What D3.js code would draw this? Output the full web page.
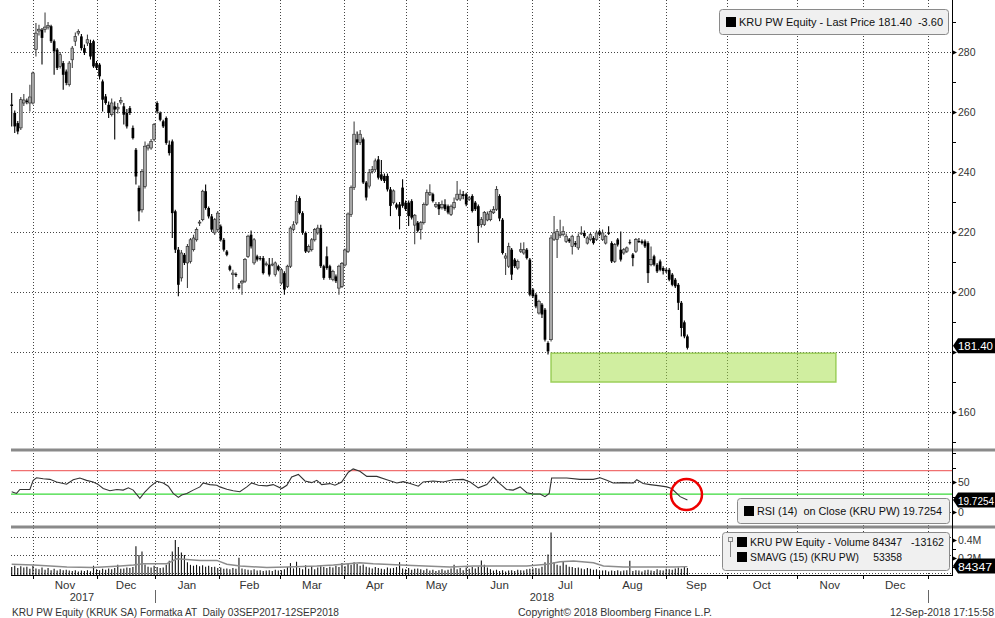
<!DOCTYPE html>
<html>
<head>
<meta charset="utf-8">
<script src="https://cdn.jsdelivr.net/npm/d3@7"></script>
<style>
body { margin: 0; background: #fff; }
text { font-family: "Liberation Sans", Arial, sans-serif; }
</style>
</head>
<body>
<div id="chart"></div>
<script>

// daily candles (PLN)
var open = [262.5,259.7,256.3,254.7,263.0,263.8,263.0,263.0,280.8,287.0,287.4,287.5,288.3,288.6,283.6,280.8,275.2,276.3,273.5,269.1,
277.4,283.6,286.3,285.2,281.3,283.0,283.0,283.6,276.3,275.8,270.2,265.2,262.4,259.1,261.9,261.0,263.3,261.9,259.7,261.3,
254.7,247.4,234.7,227.4,235.2,248.0,248.0,250.8,263.0,259.7,256.9,258.0,249.1,250.2,226.9,214.1,204.7,212.4,209.7,210.2,
214.1,217.4,223.0,224.1,233.6,228.0,225.2,219.7,220.8,221.9,217.4,213.5,208.6,205.8,206.0,202.4,203.0,203.6,211.9,219.1,
209.7,211.9,211.3,211.3,209.1,209.1,209.0,205.8,208.6,203.0,206.3,201.9,208.6,220.8,223.0,231.3,226.3,219.7,213.5,214.1,
217.4,219.7,221.3,208.6,211.9,208.6,204.1,205.2,201.3,201.9,209.0,213.5,225.9,234.8,250.9,249.8,250.9,236.5,235.3,240.2,
240.8,244.2,239.2,238.7,238.7,234.2,229.8,229.2,229.2,234.8,229.8,229.8,230.3,222.3,223.1,220.9,223.1,229.2,232.6,232.6,
228.6,229.2,228.1,229.2,228.6,225.9,228.1,230.9,231.0,232.6,232.6,230.9,232.0,229.8,228.6,222.5,222.5,224.0,224.1,226.4,
227.6,232.0,224.1,211.3,208.6,214.1,210.8,208.0,213.6,213.0,214.1,210.8,200.8,199.1,193.0,195.8,194.1,183.0,184.1,217.6,
217.5,218.8,219.1,216.9,217.5,215.2,216.3,214.7,219.5,219.7,216.3,217.5,218.0,217.5,220.2,217.5,216.3,219.9,216.3,210.2,
217.5,214.1,213.0,213.6,216.6,212.5,213.6,217.0,216.9,216.9,216.3,209.1,211.9,209.1,210.2,208.0,207.4,207.4,205.8,204.1,
202.4,196.4,189.9,185.2];
var high = [266.3,260.5,257.0,265.0,266.0,264.5,269.1,273.5,289.7,289.1,288.0,293.2,290.0,289.1,284.2,281.3,280.0,277.0,274.2,277.0,
282.0,286.5,287.6,286.0,282.5,285.8,284.1,284.1,277.0,276.3,270.8,266.0,263.5,264.5,263.5,263.0,265.0,263.0,261.0,262.0,
255.5,248.0,235.5,241.0,250.2,249.5,251.0,256.3,263.6,260.2,257.4,258.5,250.5,250.8,227.4,215.0,214.0,213.0,216.0,218.0,
219.1,221.5,224.0,234.1,235.8,228.5,226.0,224.7,227.0,222.5,218.0,214.0,209.1,207.4,206.5,203.0,204.1,211.3,219.1,220.5,
218.0,212.4,212.0,212.0,210.2,211.3,211.3,210.2,209.1,208.0,206.9,209.1,221.9,223.6,232.4,231.9,226.9,220.2,215.8,218.0,
221.3,222.4,222.4,209.1,215.2,209.1,207.4,205.8,209.1,210.0,214.5,226.5,235.5,256.8,253.5,254.0,251.5,237.0,241.0,242.0,
244.5,245.3,244.0,239.5,239.5,235.0,234.2,229.8,230.0,237.6,230.5,230.5,230.9,226.0,223.7,223.7,229.8,234.2,235.9,233.1,
230.0,230.0,230.5,230.9,229.2,229.2,231.5,237.0,234.2,233.7,233.1,232.0,232.6,230.3,229.2,225.0,227.0,226.8,227.5,228.6,
235.3,232.6,224.7,213.0,216.4,214.7,211.3,210.8,216.4,216.6,214.7,211.3,201.3,199.7,197.4,196.3,194.7,183.6,219.0,225.3,
221.0,224.1,221.9,219.5,218.0,219.1,217.0,219.5,221.9,220.5,218.6,219.7,218.6,220.5,220.8,220.8,219.1,221.9,216.9,216.3,
218.0,220.2,214.7,215.2,217.5,213.0,218.0,218.0,217.5,217.5,216.9,215.2,212.4,209.7,210.8,208.6,208.0,208.0,206.3,204.7,
203.0,197.0,190.5,185.8];
var low = [255.2,253.0,252.6,254.0,262.0,262.6,260.2,262.5,278.5,285.5,275.8,286.5,287.5,283.0,272.4,274.0,274.5,267.4,268.9,268.5,
274.7,282.0,285.5,280.5,279.0,282.0,277.5,274.7,274.0,270.8,260.2,262.4,258.0,258.5,250.8,259.5,262.5,255.8,254.5,259.0,
250.8,235.8,223.6,226.5,234.5,247.2,247.4,250.2,259.5,256.9,254.7,249.1,245.5,218.0,213.0,198.6,203.5,209.0,201.3,209.5,
213.5,216.8,222.0,223.6,227.4,224.5,220.0,219.0,220.0,216.8,213.5,211.9,206.9,200.8,205.0,200.8,199.1,203.0,211.3,214.5,
209.1,210.2,210.5,205.8,208.6,205.2,208.6,205.2,206.9,202.4,199.1,201.3,208.0,220.2,222.4,225.8,219.1,213.0,213.0,213.5,
216.8,219.1,208.0,204.1,207.4,204.1,203.6,203.0,199.1,201.3,208.5,213.0,225.0,234.0,249.0,249.0,236.0,230.5,234.5,239.5,
240.0,237.5,237.0,236.3,233.5,225.3,229.2,227.5,220.9,228.1,227.0,222.0,224.2,215.9,219.8,217.5,222.5,228.7,232.0,229.8,
228.0,225.7,227.5,227.0,225.9,225.3,227.5,230.3,230.3,230.9,228.6,230.3,226.5,227.0,216.4,221.5,222.0,223.6,223.6,226.0,
227.0,223.6,212.5,205.7,208.0,204.0,208.0,207.4,213.0,212.4,210.8,198.6,198.0,194.6,192.5,191.3,183.5,179.2,183.5,217.0,
211.3,218.0,218.6,216.3,216.3,212.5,215.0,214.0,219.0,218.0,215.8,216.9,215.8,217.0,218.6,217.0,215.8,219.0,209.7,209.7,
215.2,210.2,212.4,213.0,215.8,208.6,213.0,216.3,215.8,214.7,203.0,208.6,208.6,206.3,206.9,205.8,206.3,203.6,201.9,201.3,
194.0,185.2,184.6,180.8];
var close = [262.0,255.2,253.5,264.1,264.0,263.3,265.0,273.0,286.3,287.6,284.7,288.3,288.8,283.6,280.2,274.7,279.1,272.4,269.7,276.3,
281.3,285.2,286.9,281.3,279.7,284.1,278.5,275.2,274.7,271.9,264.1,263.0,259.7,263.0,260.8,261.6,263.8,259.1,255.2,259.7,
251.3,238.5,226.9,240.2,248.6,248.8,250.2,255.8,260.2,257.4,255.2,249.7,246.3,226.3,214.1,202.4,213.0,209.7,215.2,217.4,
218.0,220.8,223.3,233.6,228.0,225.2,220.8,224.1,226.3,217.4,214.1,212.4,207.4,206.3,205.6,201.3,203.6,210.8,218.6,215.2,
217.4,210.8,211.0,206.3,209.4,205.8,209.3,209.7,207.4,207.4,200.8,208.6,221.3,222.4,230.2,226.3,219.7,213.5,215.2,217.4,
220.8,221.3,208.6,204.7,208.0,204.7,206.9,203.6,208.6,209.5,214.0,226.0,234.8,252.6,249.8,252.6,236.5,231.5,239.8,240.8,
243.7,238.1,237.5,237.0,234.2,228.7,233.7,228.1,225.3,228.7,227.6,225.3,224.8,225.6,220.4,223.1,229.2,233.1,233.1,230.3,
229.2,227.6,229.2,227.6,226.5,228.6,229.8,232.6,232.6,232.0,229.2,231.4,227.0,227.6,222.0,224.1,226.5,226.0,226.9,227.5,
234.2,224.5,213.0,212.0,215.2,205.8,208.6,210.2,214.1,214.1,211.3,199.1,198.6,195.2,196.9,192.5,184.1,180.2,218.0,219.7,
220.2,219.3,220.2,218.6,216.9,218.6,215.8,218.6,219.7,218.6,218.0,219.1,216.3,219.7,219.1,219.7,218.6,219.4,210.2,215.8,
215.8,210.8,214.1,214.7,216.3,211.3,217.5,216.9,216.3,215.2,206.3,210.8,209.1,206.9,207.4,207.0,206.9,204.1,202.4,201.9,
196.4,188.0,185.2,181.4];

// volume, thousands of shares
var volume = [95,110,85,105,90,100,75,110,80,70,90,65,85,60,75,55,70,60,65,55,
50,60,45,55,50,60,48,110,70,60,75,65,80,70,85,120,75,80,90,85,
95,330,230,270,125,100,90,110,95,85,90,120,165,270,400,320,260,230,150,120,
110,120,105,115,100,110,95,100,85,90,75,80,70,85,75,200,80,70,65,60,
70,55,60,50,55,60,50,65,55,60,70,95,140,80,155,85,70,115,75,105,
70,90,105,95,85,100,90,110,95,140,105,130,120,150,130,110,125,100,90,80,
95,85,75,70,90,80,85,95,150,80,70,85,65,75,80,70,60,75,55,65,
50,60,70,55,65,80,120,70,85,60,90,75,95,80,100,170,120,90,70,55,
65,50,60,45,55,60,50,65,60,55,70,75,80,85,80,100,150,236,484,150,
120,110,160,120,100,95,85,90,80,70,85,75,65,70,50,55,60,45,55,50,
60,48,55,60,165,50,60,55,45,60,65,55,50,70,60,55,75,70,65,80,
90,75,95,84];

// SMAVG (15) of volume, thousands
var smaDay = [0,7.2,12.7,18.2,27,35.8,40.2,43.5,51.2,54.5,57.8,62.2,67.7,71,75.4,84.2,90.8,100.7,106.2,111.1,
114.9,119.3,130.3,144.6,152.4,170,176.6,181,185.4,192,195.3,201.9,218.4,223];
var smaValue = [126,119,108,97,89,108,119,133,133,188,181,170,170,126,108,89,97,108,119,133,
144,133,115,97,108,108,126,155,163,144,108,97,97,100];

// RSI (14)
var rsiDay = [0,1.6,2.7,6,7.1,8.2,10.4,12.6,14.8,18.1,20.3,22.5,24.7,26.9,28.6,30.2,32.4,34.7,36.8,38.5,
40.1,42.3,44,45.6,47.9,50,51.7,53.3,55,56.1,57.8,59.9,62.1,63.2,65.4,67.7,68.7,71,73.1,75.3,
77.6,79.2,81.4,84.2,86.3,89.1,90.8,92.4,94.6,96.8,99,100.7,102.3,105,106.7,108.9,111.1,112.7,114.9,117.2,
120.5,123.8,127.1,129.2,131.5,134.2,135.8,139.1,142.4,145.7,149,151.3,154,156.8,158.9,161.1,163.3,165.5,167.8,170,
172.1,174.4,176,177.4,178.2,183.2,187.5,191.9,194.2,196.4,198.5,201.8,205.2,206.3,208.4,210.7,214,216.2,217.8,220.6,223];
var rsiValue = [33.9,31.1,37.8,37.8,53.3,57.8,56.1,55,50.6,46.7,54.4,57.2,53.3,50.6,46.1,39.4,35.6,37.8,36.7,40.6,
36.7,22.8,33.9,42.2,51.7,48.9,43.3,31.1,24.4,28.3,31.1,36.7,42.2,48.9,46.1,45,42.2,38.3,35.6,33.9,
42.2,48.9,45,43.9,46.1,39.4,45,58.9,63.3,52.2,49.4,53.3,46.1,47.8,45,50.6,67.2,72.8,68.9,60,
60,54.4,48.9,51.1,47.8,43.3,50.6,52.2,50.6,54.4,55,50.6,40.6,46.1,58.9,47.8,37.8,36.7,42.2,32.2,
30,30,25.6,31.1,57.2,57.2,55,55,57.8,53.3,48.9,49.4,48.9,54.4,47.8,46.1,43.9,42.2,39.4,25.6,19.7];

// calendar: month boundaries in trading-day units
var monthLines = [7.0,28.2,47.3,68.4,88.5,109.7,130.1,150.3,171.7,193.8,215.9,236.0,259.1,280.9,302.3];
var monthNames = ["Nov","Dec","Jan","Feb","Mar","Apr","May","Jun","Jul","Aug","Sep","Oct","Nov","Dec"];
var yearNames = ["2017","2018"];
var yearDay = [23.2,175];
var yearSplit = [47.3,302.3];

// axes (the 180 label sits under the last-price tag)
var priceTicks = [160,180,200,220,240,260,280];
var priceLabels = ["160","","200","220","240","260","280"];
var priceMinor = [150,170,190,210,230,250,270,290];
var rsiTicks = [0,50];
var rsiMinor = [25,75,100];
var rsiBands = [70,30];
var volTicks = [200,400];
var volMinor = [100,300];

// support zone and highlighted RSI
var zoneDays = [178,272];
var zonePrice = [170,179.6];
var markDay = 222.7, markRsi = 29.3;

var lastPrice = "181.40", lastRsi = "19.7254", lastVol = "84347";

var svg = d3.select("#chart")
    .append("svg")
    .attr("width", 995)
    .attr("height", 618);

var left = 11, axisX = 952;

// X scale: one step per trading day
var x = d3.scaleLinear()
    .domain([0, 223])
    .range([11.7, 687.4]);

// Y scales for the three panels
var y = d3.scaleLinear().domain([160, 280]).range([412, 52]);
var yRsi = d3.scaleLinear().domain([0, 50]).range([511.7, 482.3]);
var yVol = d3.scaleLinear().domain([0, 400]).range([575.5, 540]);

var grid = svg.append("g")
    .attr("stroke", "#444")
    .attr("stroke-dasharray", "1,2")
    .attr("stroke-width", 1);

// vertical month lines
grid.selectAll(".vgrid")
    .data(monthLines)
    .enter().append("line")
    .attr("x1", function(d) { return Math.round(x(d)) + 0.5; })
    .attr("x2", function(d) { return Math.round(x(d)) + 0.5; })
    .attr("y1", 0)
    .attr("y2", 575);

// horizontal grid in each panel
grid.selectAll(".pgrid")
    .data(priceTicks)
    .enter().append("line")
    .attr("x1", left).attr("x2", axisX)
    .attr("y1", function(d) { return Math.round(y(d)) + 0.5; })
    .attr("y2", function(d) { return Math.round(y(d)) + 0.5; });

grid.selectAll(".rgrid")
    .data(rsiTicks)
    .enter().append("line")
    .attr("x1", left).attr("x2", axisX)
    .attr("y1", function(d) { return Math.round(yRsi(d)) + 0.5; })
    .attr("y2", function(d) { return Math.round(yRsi(d)) + 0.5; });

grid.selectAll(".vgrid2")
    .data(volTicks.concat([0]))
    .enter().append("line")
    .attr("x1", left).attr("x2", axisX)
    .attr("y1", function(d) { return Math.round(yVol(d)) - 2.5; })
    .attr("y2", function(d) { return Math.round(yVol(d)) - 2.5; });

// support zone
svg.append("rect")
    .attr("x", x(zoneDays[0]))
    .attr("y", y(zonePrice[1]))
    .attr("width", x(zoneDays[1]) - x(zoneDays[0]))
    .attr("height", y(zonePrice[0]) - y(zonePrice[1]))
    .attr("fill", "#a1dd41")
    .attr("fill-opacity", 0.5)
    .attr("stroke", "#9ccf5a")
    .attr("stroke-width", 1.5);

// candles
var days = d3.range(close.length);

svg.append("g").selectAll("line")
    .data(days)
    .enter().append("line")
    .attr("x1", function(d) { return x(d); })
    .attr("x2", function(d) { return x(d); })
    .attr("y1", function(d) { return y(high[d]); })
    .attr("y2", function(d) { return y(low[d]); })
    .attr("stroke", function(d) { return close[d] >= open[d] ? "#444" : "#000"; })
    .attr("stroke-width", 1.1);

svg.append("g").selectAll("rect")
    .data(days)
    .enter().append("rect")
    .attr("x", function(d) { return x(d) - 1.35; })
    .attr("width", 2.7)
    .attr("y", function(d) { return y(Math.max(open[d], close[d])); })
    .attr("height", function(d) { return Math.max(1, Math.abs(y(open[d]) - y(close[d]))); })
    .attr("fill", function(d) { return close[d] >= open[d] ? "#a8a8a8" : "#000"; })
    .attr("stroke", function(d) { return close[d] >= open[d] ? "#222" : "none"; })
    .attr("stroke-width", 0.6);

// RSI bands
svg.selectAll(".band")
    .data(rsiBands)
    .enter().append("line")
    .attr("x1", left).attr("x2", axisX)
    .attr("y1", function(d) { return yRsi(d); })
    .attr("y2", function(d) { return yRsi(d); })
    .attr("stroke", function(d, i) { return i == 0 ? "#f07070" : "#3ada3a"; })
    .attr("stroke-width", 1.2);

// RSI line
svg.append("path")
    .datum(d3.range(rsiDay.length))
    .attr("fill", "none")
    .attr("stroke", "#333")
    .attr("stroke-width", 1.1)
    .attr("d", d3.line()
        .x(function(i) { return x(rsiDay[i]); })
        .y(function(i) { return yRsi(rsiValue[i]); }));

svg.append("circle")
    .attr("cx", x(markDay))
    .attr("cy", yRsi(markRsi))
    .attr("r", 15.5)
    .attr("fill", "none")
    .attr("stroke", "#e00")
    .attr("stroke-width", 2.5);

// volume bars
svg.append("g").selectAll("line")
    .data(days)
    .enter().append("line")
    .attr("x1", function(d) { return x(d); })
    .attr("x2", function(d) { return x(d); })
    .attr("y1", yVol(0))
    .attr("y2", function(d) { return yVol(volume[d]); })
    .attr("stroke", "#111")
    .attr("stroke-width", 1.1);

svg.append("path")
    .datum(d3.range(smaDay.length))
    .attr("fill", "none")
    .attr("stroke", "#8c8c8c")
    .attr("stroke-width", 1.5)
    .attr("d", d3.line()
        .x(function(i) { return x(smaDay[i]); })
        .y(function(i) { return yVol(smaValue[i]); }));

// panel separators
svg.selectAll(".sep")
    .data([450, 527])
    .enter().append("line")
    .attr("x1", left).attr("x2", 995)
    .attr("y1", function(d) { return d; })
    .attr("y2", function(d) { return d; })
    .attr("stroke", "#8a8a8a")
    .attr("stroke-width", 3);

svg.append("line")
    .attr("x1", left).attr("x2", axisX)
    .attr("y1", 575.5).attr("y2", 575.5)
    .attr("stroke", "#000");

svg.append("line")
    .attr("x1", axisX + 0.5).attr("x2", axisX + 0.5)
    .attr("y1", 0).attr("y2", 576)
    .attr("stroke", "#000");

// right axis ticks with little arrows
function rightAxis(scale, major, minor, fmt) {
    var g = svg.append("g");
    g.selectAll(".minor")
        .data(minor)
        .enter().append("line")
        .attr("x1", axisX).attr("x2", axisX + 4)
        .attr("y1", function(d) { return Math.round(scale(d)) + 0.5; })
        .attr("y2", function(d) { return Math.round(scale(d)) + 0.5; })
        .attr("stroke", "#000");
    g.selectAll(".arrow")
        .data(major)
        .enter().append("path")
        .attr("d", function(d) {
            var yy = Math.round(scale(d)) + 0.5;
            return "M" + axisX + "," + (yy - 2.5) + "L" + (axisX + 5) + "," + yy + "L" + axisX + "," + (yy + 2.5) + "Z";
        })
        .attr("fill", "#000");
    g.selectAll("text")
        .data(major)
        .enter().append("text")
        .attr("x", axisX + 6)
        .attr("y", function(d) { return scale(d) + 4; })
        .style("font-size", "10.5px")
        .attr("fill", "#333")
        .text(fmt);
}

rightAxis(y, priceTicks, priceMinor, function(d, i) { return priceLabels[i]; });
rightAxis(yRsi, rsiTicks, rsiMinor, function(d) { return d; });
rightAxis(yVol, volTicks, volMinor, function(d) { return (d / 1000) + "M"; });

// last value tags
function tag(yy, label, w) {
    svg.append("path")
        .attr("d", "M" + (axisX + 1) + "," + yy + "L" + (axisX + 6) + "," + (yy - 7.5) +
            "L995," + (yy - 7.5) + "L995," + (yy + 7.5) + "L" + (axisX + 6) + "," + (yy + 7.5) + "Z")
        .attr("fill", "#000");
    svg.append("text")
        .attr("x", axisX + 6)
        .attr("y", yy + 4.5)
        .attr("fill", "#fff")
        .style("font-size", "11.5px")
        .attr("textLength", w)
        .attr("lengthAdjust", "spacingAndGlyphs")
        .text(label);
}
tag(y(+lastPrice) - 2, lastPrice, 35);
tag(yRsi(+lastRsi), lastRsi, 36);
tag(yVol(+lastVol / 1000) - 2, lastVol, 34);

// legend boxes
function box(bx, by, bw, bh) {
    svg.append("rect")
        .attr("x", bx + 0.5).attr("y", by + 0.5)
        .attr("width", bw).attr("height", bh)
        .attr("rx", 3)
        .attr("fill", "#f0f0f0")
        .attr("stroke", "#8a8a8a");
}
function entry(ex, ey, label, w) {
    svg.append("rect")
        .attr("x", ex).attr("y", ey - 9)
        .attr("width", 10).attr("height", 10)
        .attr("fill", "#000");
    svg.append("text")
        .attr("x", ex + 13).attr("y", ey)
        .style("font-size", "11px")
        .style("white-space", "pre")
        .attr("fill", "#111")
        .attr("textLength", w)
        .attr("lengthAdjust", "spacingAndGlyphs")
        .text(label);
}

box(719, 9, 229, 25);
entry(726, 26, "KRU PW Equity - Last Price " + lastPrice + "  -3.60", 204);

box(737, 498, 212, 25);
entry(744, 515, "RSI (14)  on Close (KRU PW) " + lastRsi, 185);

box(722, 532, 227, 38);
entry(737, 546, "KRU PW Equity - Volume " + lastVol + "   -13162", 194);
entry(737, 561, "SMAVG (15) (KRU PW)     53358", 152);
svg.append("rect")
    .attr("x", 728.5).attr("y", 537.5).attr("width", 4).attr("height", 4)
    .attr("fill", "none").attr("stroke", "#888");
svg.append("line")
    .attr("x1", 730.5).attr("x2", 730.5).attr("y1", 542).attr("y2", 557)
    .attr("stroke", "#888");

// bottom axis: month names and years
svg.selectAll(".mtick")
    .data(monthLines)
    .enter().append("line")
    .attr("x1", function(d) { return Math.round(x(d)) + 0.5; })
    .attr("x2", function(d) { return Math.round(x(d)) + 0.5; })
    .attr("y1", 575).attr("y2", 579)
    .attr("stroke", "#000");

svg.selectAll(".mlabel")
    .data(monthNames)
    .enter().append("text")
    .attr("x", function(d, i) { return (x(monthLines[i]) + x(monthLines[i + 1])) / 2; })
    .attr("y", 589)
    .attr("text-anchor", "middle")
    .style("font-size", "11.5px")
    .attr("fill", "#333")
    .text(function(d) { return d; });

svg.selectAll(".ylabel")
    .data(yearNames)
    .enter().append("text")
    .attr("x", function(d, i) { return x(yearDay[i]); })
    .attr("y", 601)
    .attr("text-anchor", "middle")
    .style("font-size", "11px")
    .attr("fill", "#333")
    .text(function(d) { return d; });

svg.selectAll(".ysplit")
    .data(yearSplit)
    .enter().append("line")
    .attr("x1", function(d) { return Math.round(x(d)) + 0.5; })
    .attr("x2", function(d) { return Math.round(x(d)) + 0.5; })
    .attr("y1", 590).attr("y2", 603)
    .attr("stroke", "#666");

// footer
svg.append("text")
    .attr("x", 12).attr("y", 616)
    .style("font-size", "11px")
    .style("white-space", "pre")
    .attr("fill", "#333")
    .attr("textLength", 327)
    .attr("lengthAdjust", "spacingAndGlyphs")
    .text("KRU PW Equity (KRUK SA) Formatka AT  Daily 03SEP2017-12SEP2018");

svg.append("text")
    .attr("x", 518).attr("y", 616)
    .style("font-size", "11px")
    .attr("fill", "#333")
    .attr("textLength", 194)
    .attr("lengthAdjust", "spacingAndGlyphs")
    .text("Copyright\u00a9 2018 Bloomberg Finance L.P.");

svg.append("text")
    .attr("x", 890).attr("y", 616)
    .style("font-size", "11px")
    .attr("fill", "#333")
    .attr("textLength", 104)
    .attr("lengthAdjust", "spacingAndGlyphs")
    .text("12-Sep-2018 17:15:58");

</script>
</body>
</html>
